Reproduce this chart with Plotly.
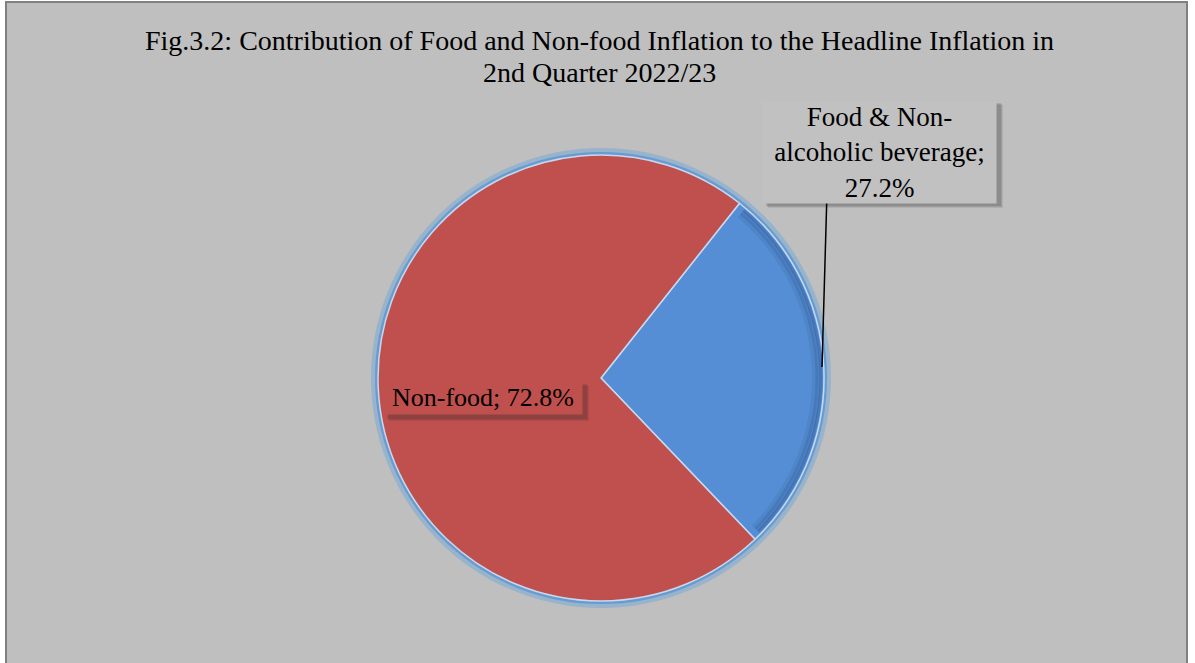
import math
import plotly.graph_objects as go

# ---- data ----
labels = ["Food & Non-alcoholic beverage", "Non-food"]
label_lines = [["Food & Non-", "alcoholic beverage;"], ["Non-food;"]]
values = [27.2, 72.8]
colors = ["#558ed5", "#c0504d"]
title_lines = ["Fig.3.2: Contribution of Food and Non-food Inflation to the Headline Inflation in",
               "2nd Quarter 2022/23"]

W, H = 1195, 663
FONT = "Liberation Serif, Times New Roman, serif"
ROT = 38.4

def px(x):
    return x / W

def py(y):
    return 1 - y / H

cx, cy, r = 601, 378, 223

fig = go.Figure()
fig.add_trace(go.Pie(
    labels=labels, values=values, sort=False, direction="clockwise",
    rotation=ROT,
    marker=dict(colors=colors, line=dict(color="#c6d9f1", width=1.5)),
    textinfo="none", hoverinfo="label+percent", showlegend=False,
    domain=dict(x=[px(cx - r), px(cx + r)], y=[py(cy + r), py(cy - r)]),
))

shapes = []
# chart area background and border
shapes.append(dict(type="rect", xref="paper", yref="paper", layer="below",
                   x0=px(6), x1=px(1187), y0=py(680), y1=py(2),
                   fillcolor="#bfbfbf", line=dict(color="#808080", width=2)))
# soft glow around pie
shapes.append(dict(type="circle", xref="paper", yref="paper", layer="below",
                   x0=px(cx - r - 4), x1=px(cx + r + 4), y0=py(cy + r + 4), y1=py(cy - r - 4),
                   line=dict(color="rgba(120,170,215,0.55)", width=6)))
shapes.append(dict(type="circle", xref="paper", yref="paper", layer="below",
                   x0=px(cx - r - 1), x1=px(cx + r + 1), y0=py(cy + r + 1), y1=py(cy - r - 1),
                   line=dict(color="rgba(91,150,210,0.8)", width=4)))

# bevel shading on the food slice's outer rim (angles derived from the data)
total = sum(values)
a0 = ROT + 2.0
a1 = ROT + values[0] / total * 360 - 2.0

def arc_path(rad):
    pts = []
    n = 40
    for i in range(n + 1):
        a = math.radians(a0 + (a1 - a0) * i / n)
        x = cx + rad * math.sin(a)
        y = cy - rad * math.cos(a)
        pts.append(f"{px(x):.5f} {py(y):.5f}")
    return "M " + " L ".join(pts)

for rad, w, a in [(214, 6, 0.08), (217, 5, 0.12), (220, 3, 0.18)]:
    shapes.append(dict(type="path", xref="paper", yref="paper", layer="above",
                       path=arc_path(rad), line=dict(color=f"rgba(15,35,70,{a})", width=w)))

# label box shadows
for (x0, y0, x1, y1) in [(762, 99, 997, 202), (383, 380, 583, 415)]:
    for k, a in [(6, 0.10), (5, 0.12), (4, 0.15)]:
        shapes.append(dict(type="rect", xref="paper", yref="paper", layer="above",
                           x0=px(x0 + k), x1=px(x1 + k), y0=py(y1 + k), y1=py(y0 + k),
                           fillcolor=f"rgba(40,40,40,{a})", line=dict(width=0)))
# leader line
shapes.append(dict(type="path", xref="paper", yref="paper", layer="above",
                   path=f"M {px(838)} {py(192)} L {px(827)} {py(192)} L {px(822)} {py(367)}",
                   line=dict(color="black", width=1.5)))

pct = [f"{v:.1f}%" for v in values]
annotations = [
    dict(text=title_lines[0], x=px(599), y=py(40), xref="paper", yref="paper",
         xanchor="center", yanchor="middle",
         showarrow=False, font=dict(family=FONT, size=28, color="black")),
    dict(text=title_lines[1], x=px(599), y=py(72), xref="paper", yref="paper",
         xanchor="center", yanchor="middle",
         showarrow=False, font=dict(family=FONT, size=28, color="black")),
    dict(text="<br>".join(label_lines[0] + [pct[0]]), x=px(879.5), y=py(152.5), xref="paper", yref="paper",
         xanchor="center", yanchor="middle",
         showarrow=False, font=dict(family=FONT, size=27, color="black"), align="center",
         bgcolor="#c1c1c1", width=233, height=101, borderpad=0),
    dict(text=" ".join(label_lines[1] + [pct[1]]), x=px(483), y=py(397.5), xref="paper", yref="paper",
         xanchor="center", yanchor="middle",
         showarrow=False, font=dict(family=FONT, size=26, color="black"), align="center",
         bgcolor=colors[1], width=198, height=33, borderpad=0),
]

fig.update_layout(width=W, height=H, margin=dict(l=0, r=0, t=0, b=0),
                  paper_bgcolor="white", plot_bgcolor="white",
                  shapes=shapes, annotations=annotations)

fig.write_html("out.html", config={"displayModeBar": False},
               post_script="document.body.style.margin='0';")
